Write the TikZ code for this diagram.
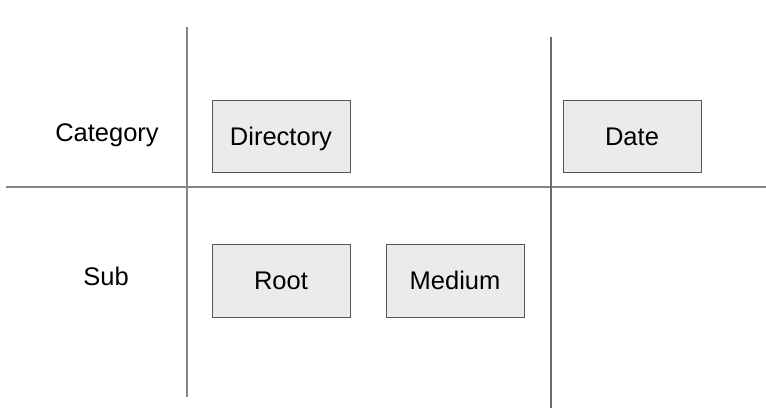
\documentclass[tikz,border=0pt]{standalone}
\usepackage{fontspec}
\setmainfont{Liberation Sans}
\usetikzlibrary{positioning}
\definecolor{boxfill}{HTML}{EBEBEB}
\definecolor{boxline}{HTML}{555555}
\definecolor{gridline}{HTML}{858585}
\tikzset{x=1pt, y=-1pt, node distance=35pt,
    tag/.style={draw=boxline, line width=1pt, fill=boxfill, minimum width=138pt,
        minimum height=72pt, inner sep=0pt, text height=18pt, text depth=0pt,
        font=\fontsize{25.5}{30}\selectfont},
    rowlabel/.style={font=\fontsize{25.5}{30}\selectfont, inner sep=0pt,
        text height=18pt, text depth=0pt},
    rule/.style={draw=gridline, line width=2pt},
    thinrule/.style={draw=gridline!80!black, line width=1.3pt}}

\begin{document}
\begin{tikzpicture}
    \useasboundingbox (0,0) rectangle (766,414);
    % grid
    \coordinate (v1top) at (187,27);
    \coordinate (v1bot) at (187,397);
    \coordinate (v2top) at (551,37);
    \coordinate (v2bot) at (551,408);
    \coordinate (hleft) at (6,187);
    \coordinate (hright) at (766,187);
    \draw[rule] (hleft) -- (hright);
    \draw[rule] (v1top) -- (v1bot);
    \draw[thinrule] (v2top) -- (v2bot);
    % labels
    \node[rowlabel] (category) at (107,133) {Category};
    \node[rowlabel] (sub) at (106,277) {Sub};
    % boxes
    \node[tag] (directory) at (281,137) {Directory};
    \node[tag] (date) at (632,137) {Date};
    \node[tag] (root) at (281,281) {Root};
    \node[tag, right=of root] (medium) {Medium};
\end{tikzpicture}
\end{document}
